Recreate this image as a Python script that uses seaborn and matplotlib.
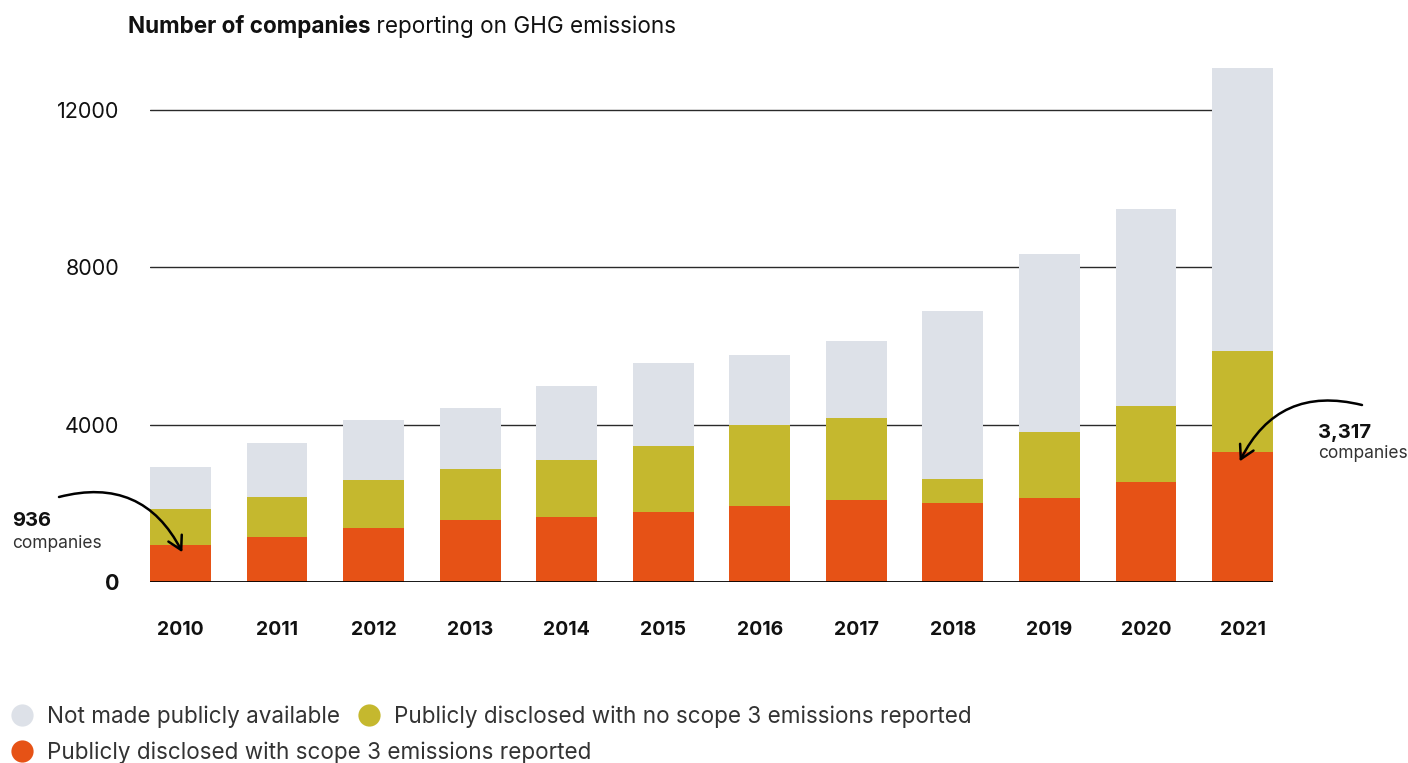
import matplotlib
matplotlib.use("Agg")
import matplotlib.pyplot as plt
from matplotlib.lines import Line2D
import seaborn as sns
import numpy as np

# Companies reporting on GHG emissions, by disclosure status
years = ["2010", "2011", "2012", "2013", "2014", "2015",
         "2016", "2017", "2018", "2019", "2020", "2021"]
with_scope3 = [936, 1142, 1372, 1576, 1653, 1781, 1933, 2088, 2015, 2142, 2551, 3317]
without_scope3 = [919, 1022, 1226, 1302, 1455, 1685, 2061, 2087, 608, 1679, 1924, 2560]
not_public = [1073, 1378, 1531, 1558, 1889, 2093, 1779, 1952, 4266, 4521, 5010, 7198]

y_ticks = [0, 4000, 8000, 12000]
series_labels = ["Not made publicly available",
                 "Publicly disclosed with no scope 3 emissions reported",
                 "Publicly disclosed with scope 3 emissions reported"]

GREY = "#DDE1E8"
OLIVE = "#C5B82E"
ORANGE = "#E65216"

sns.set_theme(style="white")
plt.rcParams["font.family"] = ["Inter", "DejaVu Sans"]

W, H = 1408, 763
fig = plt.figure(figsize=(W / 100, H / 100), dpi=100)
ax = fig.add_axes([150 / W, (H - 582) / H, 1123 / W, (582 - 59) / H])

lower = np.array(with_scope3)
middle = lower + np.array(without_scope3)
total = middle + np.array(not_public)

bar_w = 0.63
for vals, col in [(total, GREY), (middle, OLIVE), (lower, ORANGE)]:
    sns.barplot(x=years, y=vals, color=col, saturation=1, width=bar_w,
                errorbar=None, ax=ax, zorder=2, linewidth=0, edgecolor="none")

ax.set_xlim(-bar_w / 2, len(years) - 1 + bar_w / 2)
ax.set_ylim(0, 13300)
ax.set_xlabel("")
ax.set_ylabel("")
for s in ax.spines.values():
    s.set_visible(False)

# horizontal reference lines and the zero baseline
ax.set_yticks(y_ticks)
ax.set_yticklabels([str(v) for v in y_ticks])
for v in y_ticks[1:]:
    ax.axhline(v, color="#2a2a2a", lw=1.0, zorder=1)
ax.axhline(0, color="black", lw=2.0, zorder=3)

ax.tick_params(axis="y", direction="out", length=14, width=1.0, color="#222",
               pad=8, labelsize=15.5, labelcolor="#111")
ax.tick_params(axis="x", length=0, pad=28, labelsize=14, labelcolor="#111")
for lab in ax.get_xticklabels():
    lab.set_fontweight("bold")
ylabs = ax.get_yticklabels()
ylabs[0].set_fontweight("bold")
ax.yaxis.get_major_ticks()[0].tick1line.set_markeredgewidth(2.0)

# title: bold lead-in followed by regular text
t1 = fig.text(128 / W, 1 - 27 / H, "Number of companies", fontsize=16.2,
              fontweight="bold", color="#111", ha="left", va="center")
ax.annotate(" reporting on GHG emissions", xy=(1, 0), xycoords=t1,
            fontsize=16.2, color="#111", ha="left", va="bottom",
            annotation_clip=False)

# callouts
arrow_kw = dict(arrowstyle="->,head_length=0.8,head_width=0.45", lw=1.8,
                color="black", shrinkA=0, shrinkB=0)
ax.annotate("", xy=(0.02, with_scope3[0] - 180), xycoords="data",
            xytext=(59, H - 497), textcoords="figure pixels",
            arrowprops=dict(connectionstyle="arc3,rad=-0.4", **arrow_kw),
            annotation_clip=False)
fig.text(12 / W, 1 - 521 / H, f"{with_scope3[0]:,}", fontsize=14.5,
         fontweight="bold", color="#111", ha="left", va="center")
fig.text(12 / W, 1 - 543 / H, "companies", fontsize=12.5, color="#333",
         ha="left", va="center")

ax.annotate("", xy=(10.97, with_scope3[-1] - 250), xycoords="data",
            xytext=(1362, H - 405), textcoords="figure pixels",
            arrowprops=dict(connectionstyle="arc3,rad=0.4", **arrow_kw),
            annotation_clip=False)
fig.text(1318 / W, 1 - 433 / H, f"{with_scope3[-1]:,}", fontsize=14.5,
         fontweight="bold", color="#111", ha="left", va="center")
fig.text(1318 / W, 1 - 453 / H, "companies", fontsize=12.5, color="#333",
         ha="left", va="center")

# legend
def dot(c):
    return Line2D([], [], marker="o", linestyle="", markersize=16,
                  markerfacecolor=c, markeredgecolor="none")

leg_kw = dict(frameon=False, fontsize=16.2, handlelength=1.0, handletextpad=0.62,
              columnspacing=0.78, borderpad=0, borderaxespad=0,
              labelcolor="#333", loc="center left")
leg1 = fig.legend(handles=[dot(GREY), dot(OLIVE)], labels=series_labels[:2],
                  ncol=2, bbox_to_anchor=(11 / W, 1 - 717 / H), **leg_kw)
leg2 = fig.legend(handles=[dot(ORANGE)], labels=series_labels[2:],
                  bbox_to_anchor=(11 / W, 1 - 753 / H), **leg_kw)

fig.savefig("out.png", dpi=100)
